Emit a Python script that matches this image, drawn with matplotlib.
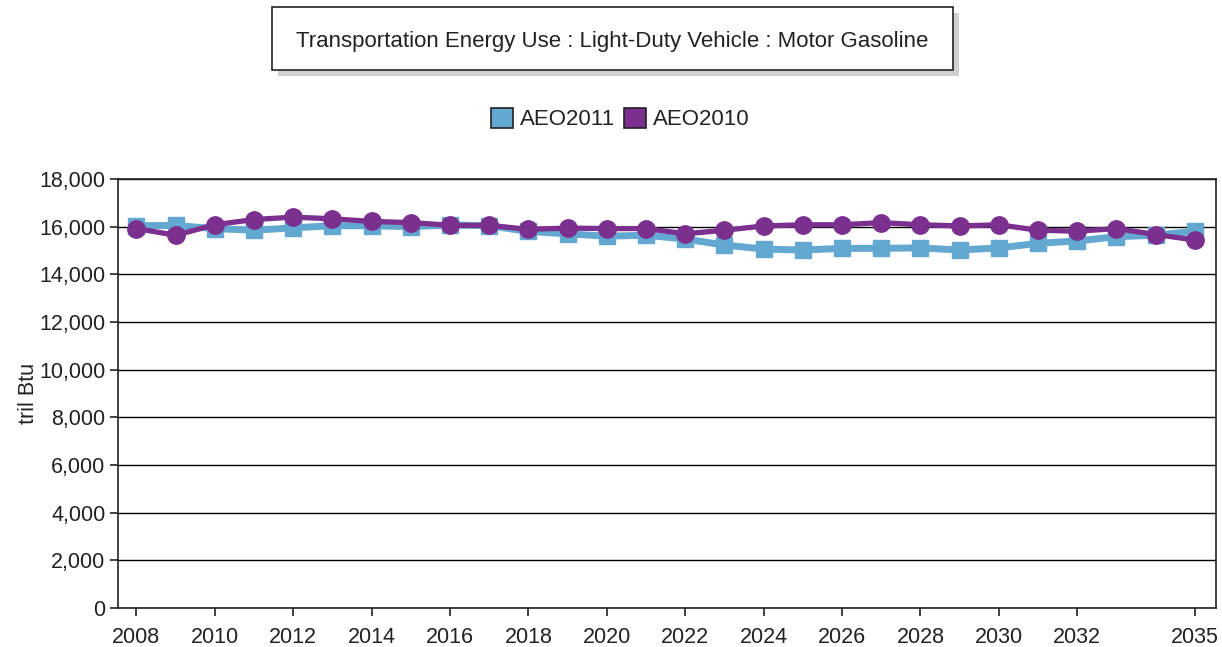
import matplotlib
matplotlib.use("Agg")
import matplotlib.pyplot as plt
from matplotlib.patches import Rectangle, Patch
from matplotlib.ticker import FuncFormatter

plt.rcParams['font.family'] = ['Liberation Sans', 'DejaVu Sans']

years = list(range(2008, 2036))
aeo2011 = [16040, 16050, 15920, 15850, 15950, 16040, 16040, 16000, 16070, 16040,
           15800, 15700, 15600, 15640, 15480, 15230, 15060, 15020, 15090, 15090,
           15110, 15020, 15110, 15300, 15400, 15580, 15640, 15810]
aeo2010 = [15920, 15640, 16080, 16300, 16400, 16330, 16220, 16170, 16060, 16050,
           15890, 15940, 15920, 15920, 15700, 15850, 16030, 16080, 16080, 16170,
           16080, 16030, 16080, 15850, 15810, 15920, 15670, 15440]
xticks = [2008, 2010, 2012, 2014, 2016, 2018, 2020, 2022, 2024, 2026, 2028, 2030, 2032, 2035]
yticks = list(range(0, 18001, 2000))
title = "Transportation Energy Use : Light-Duty Vehicle : Motor Gasoline"
ylabel = "tril Btu"
series_names = ["AEO2011", "AEO2010"]

blue = "#63A8D1"
purple = "#7B2F8F"

W, H = 1222, 647
fig = plt.figure(figsize=(W / 100, H / 100), dpi=100)
ax = fig.add_axes([118 / W, 1 - 608 / H, (1216 - 118) / W, (608 - 179) / H])

ax.plot(years, aeo2011, color=blue, lw=5, marker='s', markersize=11, zorder=3)
ax.plot(years, aeo2010, color=purple, lw=3.8, marker='o', markersize=12.5, zorder=4)

ax.set_xlim(2007.53, 2035.54)
ax.set_ylim(0, 18000)
ax.set_xticks(xticks)
ax.set_yticks(yticks)
ax.yaxis.set_major_formatter(FuncFormatter(lambda v, p: f"{int(v):,}"))
ax.grid(axis='y', color='black', lw=1, zorder=1)
ax.set_axisbelow(True)
for s in ax.spines.values():
    s.set_color('#222222')
    s.set_linewidth(1.2)
ax.tick_params(axis='both', labelsize=15.5, colors='#222222', length=6, width=1.2)
ax.tick_params(axis='x', pad=8)
ax.tick_params(axis='y', pad=3)
ax.set_ylabel(ylabel, fontsize=15.5, color='#222222', labelpad=0)

# title box with shadow
bx0, by0, bx1, by1 = 272, 7, 953, 70
fig.patches.append(Rectangle(((bx0 + 6) / W, 1 - (by1 + 6) / H), (bx1 - bx0) / W, (by1 - by0) / H,
                             transform=fig.transFigure, facecolor='#d0d0d0', edgecolor='none', zorder=0))
fig.patches.append(Rectangle((bx0 / W, 1 - by1 / H), (bx1 - bx0) / W, (by1 - by0) / H,
                             transform=fig.transFigure, facecolor='white', edgecolor='#222222', lw=1.2, zorder=1))
fig.text((bx0 + bx1) / 2 / W, 1 - 41 / H, title, ha='center', va='center',
         fontsize=16, color='#222222', zorder=2)

handles = [Patch(facecolor=blue, edgecolor='#222222', lw=1.2),
           Patch(facecolor=purple, edgecolor='#222222', lw=1.2)]
fig.legend(handles, series_names, loc='center', bbox_to_anchor=(620 / W, 1 - 119 / H),
           ncol=2, frameon=False, fontsize=16, handlelength=1.0, handleheight=1.0,
           handletextpad=0.3, columnspacing=0.4, labelcolor='#222222')

fig.savefig("out.png", dpi=100)
